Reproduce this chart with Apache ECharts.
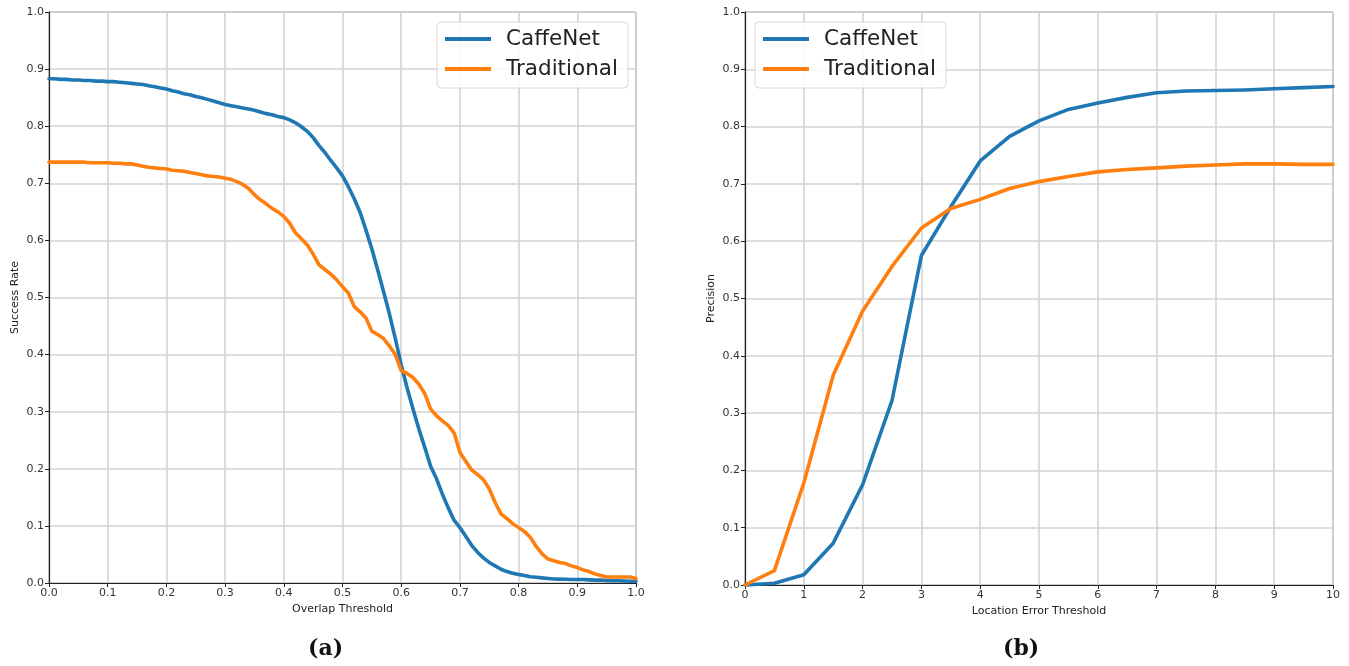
<!DOCTYPE html>
<html>
<head>
<meta charset="utf-8">
<title>Success rate and precision plots</title>
<script src="https://cdn.jsdelivr.net/npm/echarts@6/dist/echarts.min.js"></script>
<style>
  html, body { margin: 0; padding: 0; background: #fff; }
  #chart { width: 1349px; height: 666px; }
</style>
</head>
<body>
<div id="chart"></div>
<script>
// (a) success rate vs. overlap threshold, thresholds 0.00 .. 1.00 step 0.01
const overlapThresholds = Array.from({ length: 101 }, (_, i) => +(i / 100).toFixed(2));
const caffeNetSuccess = [
  0.883, 0.883, 0.882, 0.882, 0.881, 0.881, 0.880, 0.880, 0.879, 0.879,
  0.878, 0.878, 0.877, 0.876, 0.875, 0.874, 0.873, 0.871, 0.869, 0.867,
  0.865, 0.862, 0.860, 0.857, 0.855, 0.852, 0.850, 0.847, 0.844, 0.841,
  0.838, 0.836, 0.834, 0.832, 0.830, 0.828, 0.825, 0.822, 0.820, 0.817,
  0.815, 0.811, 0.806, 0.799, 0.791, 0.780, 0.766, 0.754, 0.740, 0.727,
  0.713, 0.694, 0.673, 0.649, 0.618, 0.585, 0.548, 0.510, 0.471, 0.428,
  0.382, 0.342, 0.305, 0.270, 0.238, 0.205, 0.183, 0.156, 0.132, 0.110,
  0.097, 0.082, 0.066, 0.054, 0.044, 0.036, 0.030, 0.024, 0.020, 0.017,
  0.015, 0.013, 0.011, 0.010, 0.009, 0.008, 0.007, 0.0068, 0.0065, 0.006,
  0.006, 0.006, 0.0055, 0.005, 0.005, 0.0045, 0.004, 0.004, 0.0035, 0.003,
  0.003
];
const traditionalSuccess = [
  0.737, 0.737, 0.737, 0.737, 0.737, 0.737, 0.737, 0.736, 0.736, 0.736,
  0.736, 0.735, 0.735, 0.734, 0.734, 0.732, 0.730, 0.728, 0.727, 0.726,
  0.725, 0.723, 0.722, 0.721, 0.719, 0.717, 0.715, 0.713, 0.712, 0.711,
  0.709, 0.707, 0.703, 0.698, 0.691, 0.680, 0.671, 0.664, 0.656, 0.650,
  0.642, 0.630, 0.613, 0.603, 0.592, 0.576, 0.557, 0.549, 0.541, 0.531,
  0.519, 0.508, 0.484, 0.475, 0.464, 0.441, 0.435, 0.428, 0.415, 0.400,
  0.372, 0.367, 0.360, 0.348, 0.332, 0.305, 0.293, 0.284, 0.276, 0.263,
  0.229, 0.213, 0.198, 0.190, 0.181, 0.165, 0.141, 0.121, 0.113, 0.104,
  0.097, 0.090, 0.080, 0.064, 0.051, 0.042, 0.039, 0.036, 0.034, 0.030,
  0.027, 0.023, 0.020, 0.016, 0.013, 0.0105, 0.0105, 0.0105, 0.0105, 0.0105,
  0.008
];

// (b) precision vs. location error threshold, thresholds 0 .. 10 step 0.5
const errorThresholds = [0, 0.5, 1, 1.5, 2, 2.5, 3, 3.5, 4, 4.5, 5, 5.5, 6, 6.5, 7, 7.5, 8, 8.5, 9, 9.5, 10];
const caffeNetPrecision = [
  0.000, 0.003, 0.018, 0.073, 0.175, 0.322, 0.575, 0.660, 0.740, 0.783,
  0.810, 0.830, 0.841, 0.851, 0.859, 0.862, 0.863, 0.864, 0.866, 0.868, 0.870
];
const traditionalPrecision = [
  0.000, 0.025, 0.178, 0.366, 0.478, 0.556, 0.623, 0.657, 0.673, 0.692,
  0.704, 0.713, 0.721, 0.725, 0.728, 0.731, 0.733, 0.735, 0.735, 0.734, 0.734
];

const seriesNames = ['CaffeNet', 'Traditional'];
const successTicks = { min: 0, max: 1, interval: 0.1 };
const errorTicks = { min: 0, max: 10, interval: 1 };

const BLUE = '#1f77b4';
const ORANGE = '#ff7f0e';
const FONT = '"DejaVu Sans", sans-serif';

const zip = (xs, ys) => xs.map((x, i) => [x, ys[i]]);

function valueAxis(extra) {
  return Object.assign({
    type: 'value',
    axisLine: { show: true, onZero: false, lineStyle: { color: '#222', width: 1.2 } },
    axisTick: { show: true, inside: false, length: 4, lineStyle: { color: '#222' } },
    axisLabel: { color: '#333', fontSize: 11, fontFamily: FONT, margin: 4 },
    splitLine: { show: true, lineStyle: { color: '#d3d3d3', width: 1.6 } },
    nameTextStyle: { color: '#222', fontSize: 11, fontFamily: FONT },
    nameLocation: 'middle'
  }, extra);
}

function lineSeries(name, data, xi, yi, color) {
  return {
    name, type: 'line', data,
    xAxisIndex: xi, yAxisIndex: yi,
    showSymbol: false, symbol: 'none',
    clip: false,
    lineStyle: { color, width: 3.6, join: 'round', cap: 'round' },
    itemStyle: { color },
    emphasis: { disabled: true }
  };
}

function legendAt(left) {
  return {
    data: seriesNames,
    orient: 'vertical',
    left, top: 22,
    icon: 'rect',
    itemWidth: 46, itemHeight: 4,
    itemGap: 8,
    padding: [6, 10, 8, 8],
    backgroundColor: 'rgba(255,255,255,0.85)',
    borderColor: '#d8d8d8', borderWidth: 1, borderRadius: 4,
    textStyle: { fontSize: 21.5, fontFamily: FONT, color: '#222', lineHeight: 22, padding: [0, 0, 0, 10] },
    selectedMode: false
  };
}

const chart = echarts.init(document.getElementById('chart'), null, { renderer: 'canvas' });

chart.setOption({
  animation: false,
  backgroundColor: '#fff',
  grid: [
    { left: 49, top: 12, width: 587, height: 571, show: true, borderColor: '#777', borderWidth: 1, backgroundColor: 'transparent' },
    { left: 745, top: 12, width: 588, height: 573, show: true, borderColor: '#777', borderWidth: 1, backgroundColor: 'transparent' }
  ],
  xAxis: [
    valueAxis({
      gridIndex: 0, min: successTicks.min, max: successTicks.max, interval: successTicks.interval,
      name: 'Overlap Threshold', nameGap: 21,
      axisLabel: { color: '#333', fontSize: 11, fontFamily: FONT, margin: 5, formatter: v => v.toFixed(1) }
    }),
    valueAxis({
      gridIndex: 1, min: errorTicks.min, max: errorTicks.max, interval: errorTicks.interval,
      name: 'Location Error Threshold', nameGap: 21,
      axisLabel: { color: '#333', fontSize: 11, fontFamily: FONT, margin: 5, formatter: v => String(v) }
    })
  ],
  yAxis: [
    valueAxis({
      gridIndex: 0, min: 0, max: 1, interval: 0.1,
      name: 'Success Rate', nameGap: 28,
      axisLabel: { color: '#333', fontSize: 11, fontFamily: FONT, margin: 5, formatter: v => v.toFixed(1) }
    }),
    valueAxis({
      gridIndex: 1, min: 0, max: 1, interval: 0.1,
      name: 'Precision', nameGap: 28,
      axisLabel: { color: '#333', fontSize: 11, fontFamily: FONT, margin: 5, formatter: v => v.toFixed(1) }
    })
  ],
  legend: [legendAt(437), legendAt(755)],
  series: [
    lineSeries(seriesNames[0], zip(overlapThresholds, caffeNetSuccess), 0, 0, BLUE),
    lineSeries(seriesNames[1], zip(overlapThresholds, traditionalSuccess), 0, 0, ORANGE),
    lineSeries(seriesNames[0], zip(errorThresholds, caffeNetPrecision), 1, 1, BLUE),
    lineSeries(seriesNames[1], zip(errorThresholds, traditionalPrecision), 1, 1, ORANGE)
  ],
  graphic: [
    { type: 'text', left: 308, top: 638, style: { text: '(a)', fontSize: 22, fontWeight: 'bold', fontFamily: '"DejaVu Serif", serif', fill: '#111' } },
    { type: 'text', left: 1003, top: 638, style: { text: '(b)', fontSize: 22, fontWeight: 'bold', fontFamily: '"DejaVu Serif", serif', fill: '#111' } }
  ]
});
</script>
</body>
</html>
